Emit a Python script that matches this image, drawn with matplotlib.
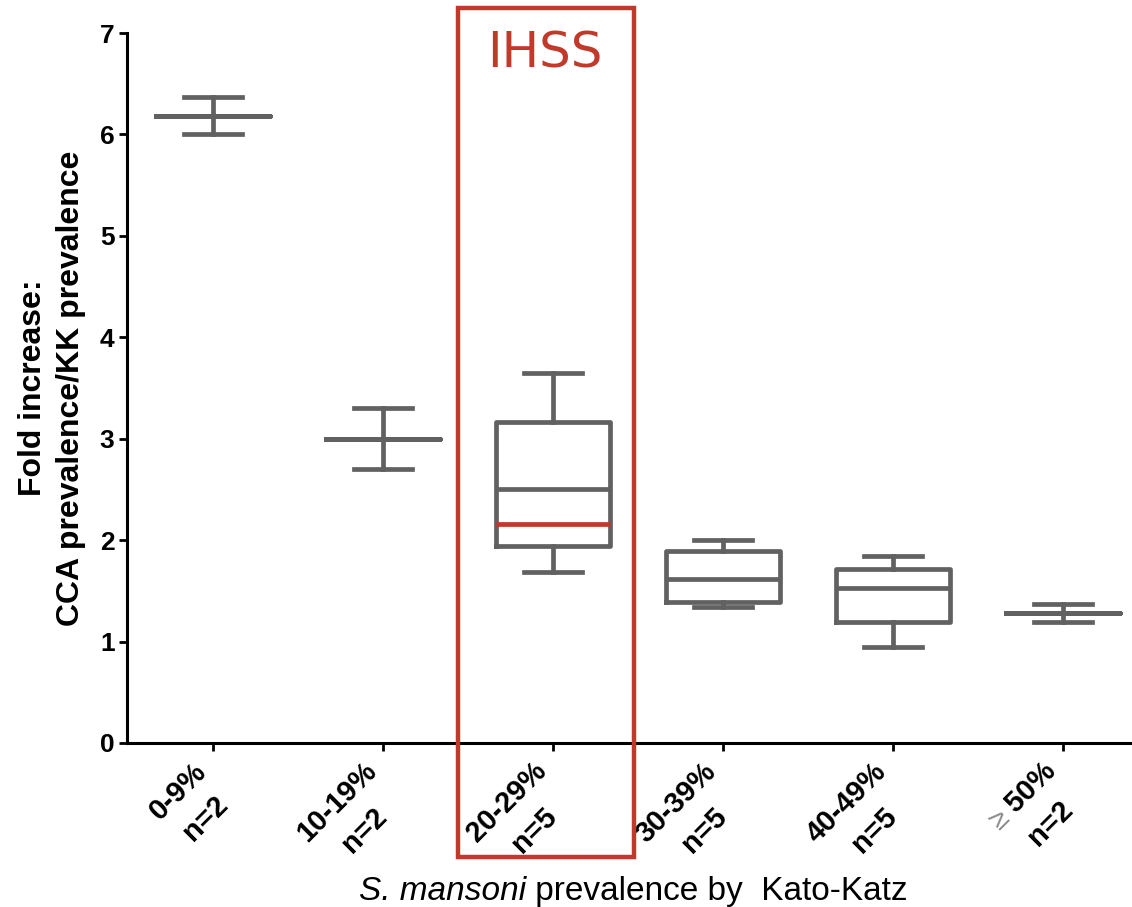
import matplotlib
matplotlib.use("Agg")
import numpy as np
import matplotlib.pyplot as plt
from matplotlib.patches import Rectangle
from matplotlib.transforms import ScaledTranslation

plt.rcParams['font.family'] = ['Liberation Sans', 'DejaVu Sans']

# ---- data ----
range_labels = ["0-9%", "10-19%", "20-29%", "30-39%", "40-49%", "\u2265 50%"]
n_labels     = ["n=2", "n=2", "n=5", "n=5", "n=5", "n=2"]
whisker_low = [6.00, 2.70, 1.69, 1.34, 0.95, 1.19]
q1_vals     = [6.18, 3.00, 1.94, 1.39, 1.19, 1.28]
medians     = [6.18, 3.00, 2.50, 1.62, 1.53, 1.28]
q3_vals     = [6.18, 3.00, 3.16, 1.89, 1.72, 1.28]
whisker_hi  = [6.37, 3.30, 3.65, 2.00, 1.84, 1.37]
ihss_mean = 2.16
ihss_index = 2
y_ticks = [0, 1, 2, 3, 4, 5, 6, 7]

GREY = "#616161"
RED = "#c0392b"

fig = plt.figure(figsize=(11.32, 9.07), dpi=100)
ax = fig.add_axes([127/1132, 1-743/907, (1130-127)/1132, (743-33)/907])

stats = []
for i in range(len(range_labels)):
    stats.append(dict(whislo=whisker_low[i], q1=q1_vals[i], med=medians[i],
                      q3=q3_vals[i], whishi=whisker_hi[i], fliers=[]))

pos = list(range(len(range_labels)))
lw = 3.4
ax.bxp(stats, positions=pos, widths=0.676, showfliers=False,
       boxprops=dict(color=GREY, linewidth=lw),
       whiskerprops=dict(color=GREY, linewidth=lw),
       capprops=dict(color=GREY, linewidth=lw),
       medianprops=dict(color=GREY, linewidth=lw, solid_capstyle='butt'))

ax.hlines(ihss_mean, pos[ihss_index]-0.338, pos[ihss_index]+0.338, color=RED, linewidth=lw, zorder=5)

ax.set_xlim(-0.506, 5.394)
ax.set_ylim(0, 7)
ax.set_yticks(y_ticks)
ax.set_yticklabels([str(t) for t in y_ticks], fontsize=19, fontweight='bold')
ax.set_xticks(pos)
ax.set_xticklabels([])
for sp in ['top', 'right']:
    ax.spines[sp].set_visible(False)
for sp in ['left', 'bottom']:
    ax.spines[sp].set_linewidth(2.2)
ax.tick_params(axis='both', width=2.0, length=6, pad=3)

# rotated two-line category labels
XT_SIZE = 21
LS = 1.5
offset = ScaledTranslation(-21/100, -14/100, fig.dpi_scale_trans)
trans = ax.get_xaxis_transform() + offset
label_texts = []
for i in range(len(range_labels)):
    t = ax.text(pos[i], 0, range_labels[i] + "\n" + n_labels[i], transform=trans,
                rotation=45, rotation_mode='anchor', ha='right', va='top',
                multialignment='center', linespacing=LS,
                fontsize=XT_SIZE, fontweight='bold', color='black')
    label_texts.append(t)

# lighter grey "\u2265" sign in the last label, overlaid on its own glyph
renderer = fig.canvas.get_renderer()
last = len(range_labels) - 1
probe_full = ax.text(0, 0, range_labels[last], fontsize=XT_SIZE, fontweight='bold')
w_full = probe_full.get_window_extent(renderer).width
probe_full.remove()
u = np.array([np.cos(np.radians(45)), np.sin(np.radians(45))])
shift = ScaledTranslation(-w_full*u[0]/100, -w_full*u[1]/100, fig.dpi_scale_trans)
ax.text(pos[last], 0, "\u2265", transform=trans + shift, rotation=45, rotation_mode='anchor',
        ha='left', va='top', fontsize=XT_SIZE, fontweight='normal', color='#8a8a8a',
        linespacing=LS, zorder=6,
        bbox=dict(boxstyle='square,pad=0.05', facecolor='white', edgecolor='none'))

ax.set_ylabel("Fold increase:\nCCA prevalence/KK prevalence", fontsize=23, fontweight='bold',
              labelpad=10, linespacing=1.35)

# x axis title: italic species name followed by plain text
t1 = fig.text(359/1132, 1-900/907, "S. mansoni", fontsize=24, style='italic',
              ha='left', va='baseline')
ax.annotate(" prevalence by  Kato-Katz", xy=(1, 0), xycoords=t1, fontsize=24,
            ha='left', va='bottom', annotation_clip=False)

fig.patches.append(Rectangle((458/1132, 1-857/907), (634-458)/1132, (857-8)/907,
                             transform=fig.transFigure, fill=False, edgecolor=RED, linewidth=3.2))
fig.text(545/1132, 1-67/907, "IHSS", color=RED, fontsize=36, ha='center', va='baseline',
         family='DejaVu Sans')

fig.savefig("out.png", dpi=100)
